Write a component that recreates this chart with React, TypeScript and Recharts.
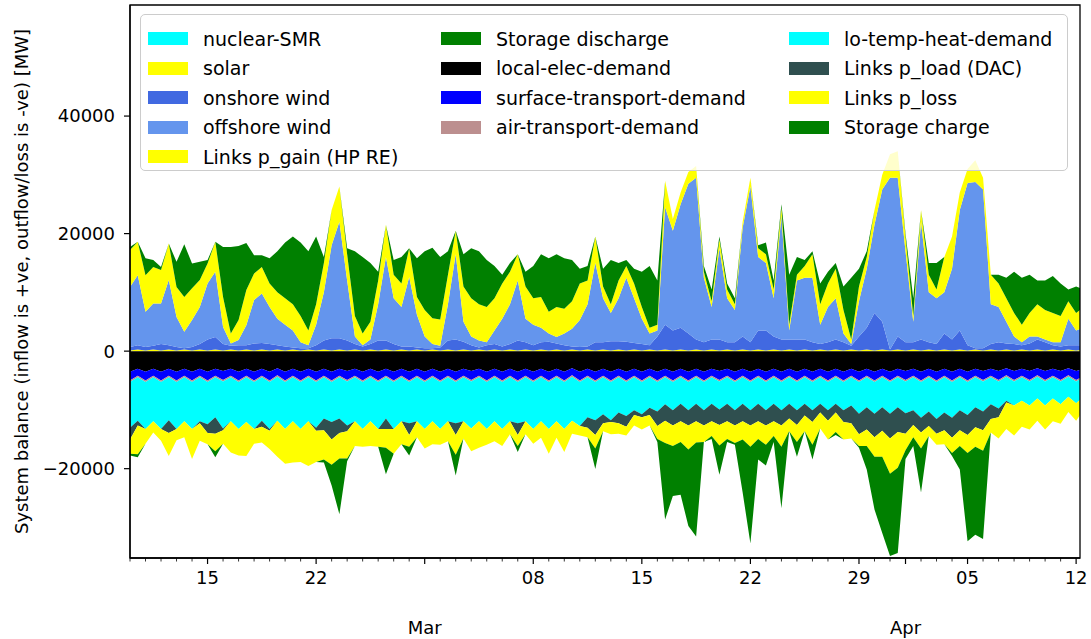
import React from 'react'
import { AreaChart, Area, XAxis, YAxis, ReferenceArea } from 'recharts'

const FONT = '"DejaVu Sans", sans-serif'

// all values in GW, one point every 12 h starting 10 Feb 00:00
const nuclearSMR = [
  0, 0, 0, 0, 0, 0, 0, 0, 0, 0, 0, 0, 0, 0, 0, 0, 0, 0, 0, 0,
  0, 0, 0, 0, 0, 0, 0, 0, 0, 0, 0, 0, 0, 0, 0, 0, 0, 0, 0, 0,
  0, 0, 0, 0, 0, 0, 0, 0, 0, 0, 0, 0, 0, 0, 0, 0, 0, 0, 0, 0,
  0, 0, 0, 0, 0, 0, 0, 0, 0, 0, 0, 0, 0, 0, 0, 0, 0, 0, 0, 0,
  0, 0, 0, 0, 0, 0, 0, 0, 0, 0, 0, 0, 0, 0, 0, 0, 0, 0, 0, 0,
  0, 0, 0, 0, 0, 0, 0, 0, 0, 0, 0, 0, 0, 0, 0, 0, 0, 0, 0, 0,
  0, 0, 0, 0,
]
const solar = [
  0.1, 0.3, 0.1, 0.3, 0.1, 0.3, 0.1, 0.3, 0.1, 0.3,
  0.1, 0.3, 0.1, 0.3, 0.1, 0.3, 0.1, 0.3, 0.1, 0.3,
  0.1, 0.3, 0.1, 0.3, 0.1, 0.3, 0.1, 0.3, 0.1, 0.3,
  0.1, 0.3, 0.1, 0.3, 0.1, 0.3, 0.1, 0.3, 0.1, 0.3,
  0.1, 0.3, 0.1, 0.3, 0.1, 0.3, 0.1, 0.3, 0.1, 0.3,
  0.1, 0.3, 0.1, 0.3, 0.1, 0.3, 0.1, 0.3, 0.1, 0.3,
  0.1, 0.3, 0.1, 0.3, 0.1, 0.3, 0.1, 0.3, 0.1, 0.3,
  0.1, 0.3, 0.1, 0.3, 0.1, 0.3, 0.1, 0.3, 0.1, 0.3,
  0.1, 0.3, 0.1, 0.3, 0.1, 0.3, 0.1, 0.3, 0.1, 0.3,
  0.1, 0.3, 0.1, 0.3, 0.1, 0.3, 0.1, 0.3, 0.1, 0.3,
  0.1, 0.3, 0.1, 0.3, 0.1, 0.3, 0.1, 0.3, 0.1, 0.3,
  0.1, 0.3, 0.1, 0.3, 0.1, 0.3, 0.1, 0.3, 0.1, 0.3,
  0.1, 0.3, 0.1, 0.3,
]
const onshoreWind = [
  0.6, 0.7, 0.6, 0.6, 1.1, 0.7, 0.6, 0.2, 0.6, 0.9,
  1.9, 2.1, 1.1, 0.6, 0.9, 0.7, 1.2, 1.1, 1.1, 0.7,
  0.7, 0.3, 0.4, 0.2, 0.9, 1.5, 2.1, 1.9, 1.7, 0.9,
  0.7, 0.9, 1.7, 1.5, 1.1, 0.5, 0.7, 0.3, 0.4, 0.2,
  0.5, 1.5, 1.9, 1.3, 0.9, 0.3, 0.9, 0.9, 0.7, 0.9,
  1.7, 1.2, 0.9, 1.2, 1.5, 1.0, 0.9, 0.5, 0.6, 0.5,
  1.4, 1.2, 1.6, 1.4, 1.5, 1.1, 1.1, 0.7, 2.4, 4.2,
  3.4, 3.7, 2.9, 1.7, 1.4, 1.7, 1.9, 1.2, 1.4, 2.2,
  1.4, 3.2, 3.4, 2.2, 1.9, 1.7, 1.9, 1.7, 1.4, 0.9,
  1.4, 1.7, 1.4, 0.6, 2.4, 3.7, 6.4, 4.7, 0.2, 2.2,
  1.4, 1.2, 1.9, 1.2, 1.1, 2.7, 1.9, 3.2, 0.9, 0.2,
  0.4, 0.9, 1.4, 1.0, 1.1, 0.7, 1.2, 1.7, 1.4, 0.7,
  0.7, 0.7, 0.9, 0.7,
]
const offshoreWind = [
  10.2, 11.9, 6.0, 7.2, 6.9, 11.1, 5.1, 2.8, 4.6, 6.3,
  9.5, 11.1, 2.9, 0.4, 0.9, 3.4, 7.4, 8.4, 6.3, 4.5,
  3.7, 2.9, 1.0, 0.5, 3.5, 8.2, 15.8, 19.8, 10.2, 1.3,
  0.2, 0.8, 6.2, 14.2, 7.8, 6.7, 11.8, 5.6, 2.0, 0.7,
  0.3, 6.2, 14.5, 3.4, 1.5, 1.2, 0.5, 2.3, 4.7, 6.8,
  10.2, 4.0, 3.5, 2.5, 1.4, 1.1, 2.0, 3.0, 4.6, 7.2,
  13.5, 7.5, 4.8, 7.3, 10.9, 7.6, 4.3, 2.0, 1.0, 20.0,
  17.0, 21.0, 25.5, 27.5, 11.0, 5.5, 15.5, 7.5, 5.5, 18.5,
  26.5, 12.5, 11.5, 6.5, 21.0, 1.5, 10.0, 10.5, 11.0, 3.3,
  6.0, 7.0, 1.5, 0.3, 6.0, 10.0, 15.0, 22.5, 29.2, 27.0,
  15.5, 3.5, 20.0, 8.5, 7.8, 7.0, 12.0, 20.5, 27.6, 28.3,
  27.0, 6.8, 6.0, 3.7, 1.3, 0.5, 1.2, 0.5, 0.5, 0.5,
  0.7, 4.5, 2.5, 3.0,
]
const pGainHP = [
  6.3, 5.7, 6.2, 6.2, 5.7, 6.2, 5.1, 5.9, 5.4, 4.6,
  3.4, 5.1, 5.1, 1.7, 3.4, 6.0, 4.5, 4.5, 4.0, 4.5,
  4.5, 4.5, 4.5, 2.5, 3.5, 5.0, 6.0, 6.0, 4.5, 3.5,
  2.0, 3.0, 4.0, 5.5, 4.0, 4.0, 4.9, 3.0, 4.5, 4.4,
  4.5, 5.0, 4.0, 6.0, 6.5, 6.2, 6.0, 5.5, 6.0, 5.5,
  4.5, 5.5, 4.5, 5.2, 3.7, 5.1, 4.2, 4.7, 6.2, 4.0,
  4.5, 2.0, 1.5, 3.0, 2.0, 2.5, 2.0, 1.0, 1.0, 4.5,
  2.0, 2.0, 2.0, 2.0, 1.0, 1.0, 1.5, 1.5, 1.0, 1.0,
  1.5, 1.5, 1.5, 1.5, 1.5, 1.0, 1.0, 2.0, 4.0, 3.5,
  4.0, 5.0, 4.0, 0.8, 2.5, 2.0, 2.5, 2.5, 4.0, 4.5,
  2.5, 1.0, 2.0, 3.0, 1.5, 6.0, 5.5, 3.0, 2.4, 3.7,
  2.0, 5.0, 4.0, 4.0, 4.0, 3.0, 4.0, 5.5, 5.0, 5.0,
  4.5, 3.0, 3.0, 3.5,
]
const storageDischarge = [
  0.5, 0, 2.9, 1.2, 0.5, 0, 4.3, 9.0, 4.2, 3.1,
  0.6, 0, 8.5, 14.7, 12.6, 8.0, 3.1, 2.0, 4.3, 7.0,
  9.5, 11.5, 12.5, 13.5, 11.5, 1.0, 0, 0, 1.0, 11.0,
  13.0, 10.0, 1.5, 0, 2.5, 4.5, 0, 6.6, 10.0, 12.0,
  10.6, 4.0, 0, 5.5, 8.5, 9.0, 8.0, 5.5, 1.5, 1.5,
  0, 2.5, 5.5, 7.3, 9.1, 9.0, 8.6, 7.0, 2.5, 2.5,
  0, 3.0, 7.5, 3.0, 1.0, 2.5, 6.0, 10.5, 7.5, 0,
  0, 0, 0, 0, 1.0, 2.0, 0.5, 1.0, 1.0, 0,
  0, 0.5, 2.0, 1.5, 0.5, 8.5, 3.0, 1.0, 0.5, 3.5,
  2.0, 1.0, 4.0, 10.5, 3.0, 1.0, 0, 0, 0, 0,
  0.5, 3.0, 0, 2.0, 4.5, 0, 0, 0, 0, 0,
  0, 0, 1.5, 3.5, 7.0, 8.0, 6.5, 4.0, 5.0, 6.3,
  5.5, 2.0, 4.5, 3.0,
]

// outflows, stored as magnitudes (drawn below zero)
const localElecDemand = [
  3.5, 3.0, 3.5, 3.0, 3.5, 3.0, 3.5, 3.0, 3.5, 3.0,
  3.5, 3.0, 3.4, 3.0, 3.5, 3.0, 3.5, 3.0, 3.5, 2.9,
  3.5, 3.0, 3.5, 3.0, 3.5, 3.0, 3.5, 3.0, 3.4, 3.0,
  3.5, 3.0, 3.5, 3.0, 3.5, 3.0, 3.5, 3.0, 3.5, 3.0,
  3.5, 3.0, 3.5, 3.0, 3.4, 3.0, 3.5, 3.0, 3.5, 3.0,
  3.5, 3.0, 3.5, 3.0, 3.5, 3.0, 3.5, 2.9, 3.5, 3.0,
  3.5, 3.0, 3.5, 3.0, 3.5, 3.0, 3.5, 3.0, 3.5, 3.0,
  3.5, 3.0, 3.5, 3.0, 3.5, 3.0, 3.4, 3.0, 3.5, 3.0,
  3.5, 3.0, 3.5, 3.0, 3.5, 3.0, 3.5, 3.0, 3.5, 3.0,
  3.5, 3.0, 3.5, 3.0, 3.5, 3.0, 3.5, 3.0, 3.5, 3.0,
  3.4, 3.0, 3.5, 3.0, 3.5, 3.0, 3.5, 3.0, 3.5, 3.0,
  3.4, 3.0, 3.4, 2.9, 3.4, 3.0, 3.4, 2.9, 3.4, 3.0,
  3.4, 2.9, 3.4, 3.0,
]
const surfaceTransportDemand = [
  1.5, 1.2, 1.5, 1.2, 1.5, 1.2, 1.5, 1.2, 1.5, 1.2,
  1.5, 1.2, 1.5, 1.2, 1.5, 1.2, 1.5, 1.2, 1.5, 1.2,
  1.5, 1.2, 1.5, 1.2, 1.5, 1.2, 1.5, 1.2, 1.5, 1.2,
  1.5, 1.2, 1.5, 1.2, 1.5, 1.2, 1.5, 1.2, 1.5, 1.2,
  1.5, 1.2, 1.5, 1.2, 1.5, 1.2, 1.5, 1.2, 1.5, 1.2,
  1.5, 1.2, 1.5, 1.2, 1.5, 1.2, 1.5, 1.2, 1.5, 1.2,
  1.5, 1.2, 1.5, 1.2, 1.5, 1.2, 1.5, 1.2, 1.5, 1.2,
  1.5, 1.2, 1.5, 1.2, 1.5, 1.2, 1.5, 1.2, 1.5, 1.2,
  1.5, 1.2, 1.5, 1.2, 1.5, 1.2, 1.5, 1.2, 1.5, 1.2,
  1.5, 1.2, 1.5, 1.2, 1.5, 1.2, 1.5, 1.2, 1.5, 1.2,
  1.5, 1.2, 1.5, 1.2, 1.5, 1.2, 1.5, 1.2, 1.5, 1.2,
  1.5, 1.2, 1.5, 1.2, 1.5, 1.2, 1.5, 1.2, 1.5, 1.2,
  1.5, 1.2, 1.5, 1.2,
]
const airTransportDemand = [
  0.25, 0.25, 0.25, 0.25, 0.25, 0.25, 0.25, 0.25, 0.25, 0.25,
  0.25, 0.25, 0.25, 0.25, 0.25, 0.25, 0.25, 0.25, 0.25, 0.25,
  0.25, 0.25, 0.25, 0.25, 0.25, 0.25, 0.25, 0.25, 0.25, 0.25,
  0.25, 0.25, 0.25, 0.25, 0.25, 0.25, 0.25, 0.25, 0.25, 0.25,
  0.25, 0.25, 0.25, 0.25, 0.25, 0.25, 0.25, 0.25, 0.25, 0.25,
  0.25, 0.25, 0.25, 0.25, 0.25, 0.25, 0.25, 0.25, 0.25, 0.25,
  0.25, 0.25, 0.25, 0.25, 0.25, 0.25, 0.25, 0.25, 0.25, 0.25,
  0.25, 0.25, 0.25, 0.25, 0.25, 0.25, 0.25, 0.25, 0.25, 0.25,
  0.25, 0.25, 0.25, 0.25, 0.25, 0.25, 0.25, 0.25, 0.25, 0.25,
  0.25, 0.25, 0.25, 0.25, 0.25, 0.25, 0.25, 0.25, 0.25, 0.25,
  0.25, 0.25, 0.25, 0.25, 0.25, 0.25, 0.25, 0.25, 0.25, 0.25,
  0.25, 0.25, 0.25, 0.25, 0.25, 0.25, 0.25, 0.25, 0.25, 0.25,
  0.25, 0.25, 0.25, 0.25,
]
const loTempHeatDemand = [
  7.8, 7.4, 8.0, 7.5, 8.0, 7.3, 8.0, 7.5, 8.0, 7.5,
  7.2, 6.8, 8.0, 7.5, 8.0, 7.6, 8.0, 7.4, 8.0, 7.5,
  8.0, 7.5, 8.0, 7.5, 7.8, 7.0, 6.8, 7.0, 7.5, 7.5,
  8.0, 7.5, 8.0, 7.0, 8.0, 7.5, 7.0, 7.5, 8.0, 7.5,
  8.0, 7.5, 7.0, 7.5, 8.0, 7.5, 8.0, 7.5, 8.0, 7.5,
  7.0, 7.5, 8.0, 7.5, 8.0, 7.5, 8.0, 7.5, 7.5, 6.8,
  6.5, 6.3, 6.5, 6.0, 5.8, 5.6, 5.5, 5.2, 5.0, 4.6,
  4.8, 4.5, 4.8, 4.5, 4.8, 4.5, 4.8, 4.5, 4.8, 4.5,
  4.8, 4.5, 4.8, 4.5, 4.8, 4.5, 4.8, 4.5, 4.8, 4.5,
  4.8, 4.5, 4.8, 4.8, 5.4, 5.1, 5.4, 5.1, 5.4, 5.1,
  5.4, 5.6, 6.1, 5.8, 6.3, 6.0, 6.1, 5.6, 5.6, 5.1,
  5.1, 4.6, 4.6, 4.1, 4.1, 4.0, 4.1, 3.7, 4.1, 3.6,
  3.9, 3.4, 3.7, 3.3,
]
const pLoadDAC = [
  2.0, 0.8, 0, 0, 0, 2.2, 0, 0, 0, 0.3,
  1.5, 2.8, 0.3, 0, 0, 0, 0, 1.0, 0.3, 0,
  0, 0, 0, 0, 0.5, 2.0, 3.0, 2.5, 1.0, 0,
  0, 0, 0, 1.8, 0, 0, 2.0, 0, 0, 0,
  0, 0, 2.0, 0, 0, 0, 0, 0, 0, 0,
  2.0, 0, 0, 0, 0, 0, 0, 0, 0, 1.8,
  2.5, 1.5, 0.3, 1.8, 1.8, 0.8, 0.5, 1.2, 2.5, 2.8,
  2.6, 3.0, 2.6, 3.0, 2.6, 3.0, 2.6, 3.0, 2.6, 3.0,
  2.6, 3.0, 2.6, 3.0, 2.6, 2.5, 2.5, 2.0, 2.0, 1.5,
  1.8, 1.5, 2.0, 3.0, 3.5, 3.8, 4.0, 4.0, 4.2, 4.2,
  3.5, 2.5, 2.5, 2.5, 2.5, 3.0, 3.4, 3.4, 3.4, 3.4,
  3.2, 2.5, 1.5, 0.3, 0, 0, 0, 0, 0, 0,
  0, 0, 0, 0,
]
const pLoss = [
  2.4, 4.9, 2.5, 1.9, 2.0, 3.9, 1.9, 2.7, 5.1, 3.0,
  1.9, 3.0, 2.3, 5.3, 4.5, 5.8, 2.5, 2.7, 3.1, 6.1,
  5.9, 7.0, 5.6, 7.6, 5.3, 5.0, 4.3, 4.3, 4.6, 4.2,
  3.0, 4.2, 3.0, 3.2, 4.2, 3.9, 2.0, 2.7, 3.3, 3.9,
  2.7, 3.4, 3.4, 2.9, 3.9, 4.5, 2.7, 3.4, 2.9, 2.2,
  1.9, 2.2, 2.5, 2.8, 4.2, 2.8, 3.9, 2.2, 1.6, 1.6,
  2.3, 1.4, 2.1, 1.8, 1.5, 1.8, 2.1, 1.8, 2.2, 3.8,
  3.5, 3.5, 4.1, 3.6, 2.8, 2.5, 3.5, 3.0, 3.0, 3.1,
  3.6, 3.0, 3.3, 2.5, 3.6, 2.2, 2.9, 2.7, 3.9, 2.7,
  3.2, 3.3, 3.0, 2.6, 2.0, 2.8, 3.3, 4.4, 6.0, 6.1,
  2.8, 2.1, 2.7, 1.7, 1.9, 2.4, 2.6, 2.7, 3.1, 3.3,
  3.5, 2.3, 3.6, 4.5, 5.1, 4.4, 4.1, 3.8, 4.1, 3.9,
  3.3, 2.6, 3.0, 2.2,
]
const storageCharge = [
  0.3, 0.5, 0, 0, 0, 0, 0, 0, 0, 0,
  0, 1.0, 0, 0, 0, 0, 0, 0, 0, 0,
  0, 0, 0, 0, 0, 0.5, 3.5, 9.5, 0.5, 0,
  0, 0, 0, 4.5, 0, 0, 1.5, 0, 0, 0,
  0, 0, 3.5, 0, 0, 0, 0, 0, 0, 0,
  1.0, 0, 0, 0, 0, 0, 0, 0, 0, 0,
  3.5, 0, 0, 0, 0, 0, 0, 0, 0.5, 13.0,
  8.5, 9.0, 13.0, 16.0, 0, 0.5, 5.0, 0.5, 0.3, 9.0,
  16.5, 3.5, 3.5, 1.0, 10.5, 0, 2.5, 0, 2.5, 0,
  0, 0.5, 0, 0, 0.3, 4.0, 9.0, 13.0, 14.0, 14.5,
  1.5, 1.5, 7.5, 0, 0, 0, 0.5, 4.0, 15.0, 15.0,
  15.0, 0, 0, 0, 0, 0, 0, 0, 0, 0,
  0, 0, 0, 0,
]

// x axis: days after 10 Feb
const WEEK_LABELS = [
  { t: 5, label: '15' }, { t: 12, label: '22' }, { t: 26, label: '08' }, { t: 33, label: '15' },
  { t: 40, label: '22' }, { t: 47, label: '29' }, { t: 54, label: '05' }, { t: 61, label: '12' },
]
const MONTH_LABELS = [{ t: 19, label: 'Mar' }, { t: 50, label: 'Apr' }]
const DAY_TICKS = Array.from({ length: 62 }, (_, d) => d)
const Y_TICKS = [-20000, 0, 20000, 40000]
const X_DOMAIN: [number, number] = [0, 61.25]
const Y_DOMAIN: [number, number] = [-35200, 58900]

type Series = { key: string; name: string; color: string; stack: 'pos' | 'neg'; values: number[] }

const SERIES: Series[] = [
  { key: 'nuclear', name: 'nuclear-SMR', color: '#00ffff', stack: 'pos', values: nuclearSMR },
  { key: 'solar', name: 'solar', color: '#ffff00', stack: 'pos', values: solar },
  { key: 'onshore', name: 'onshore wind', color: '#4169e1', stack: 'pos', values: onshoreWind },
  { key: 'offshore', name: 'offshore wind', color: '#6495ed', stack: 'pos', values: offshoreWind },
  { key: 'pgain', name: 'Links p_gain (HP RE)', color: '#ffff00', stack: 'pos', values: pGainHP },
  { key: 'discharge', name: 'Storage discharge', color: '#008000', stack: 'pos', values: storageDischarge },
  { key: 'elec', name: 'local-elec-demand', color: '#000000', stack: 'neg', values: localElecDemand },
  { key: 'surface', name: 'surface-transport-demand', color: '#0000ff', stack: 'neg', values: surfaceTransportDemand },
  { key: 'air', name: 'air-transport-demand', color: '#bc8f8f', stack: 'neg', values: airTransportDemand },
  { key: 'heat', name: 'lo-temp-heat-demand', color: '#00ffff', stack: 'neg', values: loTempHeatDemand },
  { key: 'dac', name: 'Links p_load (DAC)', color: '#2f4f4f', stack: 'neg', values: pLoadDAC },
  { key: 'loss', name: 'Links p_loss', color: '#ffff00', stack: 'neg', values: pLoss },
  { key: 'charge', name: 'Storage charge', color: '#008000', stack: 'neg', values: storageCharge },
]

// GW -> MW, outflows negative
const data = offshoreWind.map((_, i) => {
  const row: Record<string, number> = { t: i * 0.5 }
  SERIES.forEach((s) => {
    row[s.key] = (s.stack === 'neg' ? -1 : 1) * s.values[i] * 1000
  })
  return row
})

function DateTick(props: any) {
  const { x, y, payload } = props
  const t = payload.value
  const week = WEEK_LABELS.find((w) => w.t === t)
  const month = MONTH_LABELS.find((m) => m.t === t)
  const major = week || month
  return (
    <g>
      <line x1={x} x2={x} y1={y} y2={y + (major ? 6 : 3.5)} stroke="#000" strokeWidth={major ? 1.2 : 0.8} />
      {week && (
        <text x={x} y={y + 19} textAnchor="middle" dominantBaseline="central" fontSize={18} fontFamily={FONT} fill="#000">
          {week.label}
        </text>
      )}
      {month && (
        <text x={x} y={y + 69} textAnchor="middle" dominantBaseline="central" fontSize={18} fontFamily={FONT} fill="#000">
          {month.label}
        </text>
      )}
    </g>
  )
}

function YLabel(props: any) {
  const vb = props.viewBox
  const cx = 21
  const cy = vb.y + vb.height / 2
  return (
    <text x={cx} y={cy} transform={`rotate(-90 ${cx} ${cy})`} textAnchor="middle" dominantBaseline="central"
      fontSize={18} fontFamily={FONT} fill="#000">
      System balance (inflow is +ve, outflow/loss is -ve) [MW]
    </text>
  )
}

// legend columns hold 5, 4 and 4 entries
function legendCell(idx: number) {
  if (idx < 5) return { gridColumn: 1, gridRow: idx + 1 }
  if (idx < 9) return { gridColumn: 2, gridRow: idx - 4 }
  return { gridColumn: 3, gridRow: idx - 8 }
}

function LegendBox() {
  return (
    <div style={{
      position: 'absolute', left: 140, top: 14, width: 928, height: 157, boxSizing: 'border-box',
      background: 'rgba(255,255,255,0.8)', border: '1px solid #cccccc', borderRadius: 5,
      display: 'grid', gridTemplateColumns: '293px 348px auto', gridTemplateRows: 'repeat(5, 29.5px)',
      padding: '9px 0 0 7px', fontFamily: FONT, fontSize: 19, color: '#000',
    }}>
      {SERIES.map((s, i) => (
        <div key={s.key} style={{ ...legendCell(i), display: 'flex', alignItems: 'center', whiteSpace: 'nowrap' }}>
          <span style={{ width: 40, height: 13, background: s.color, marginRight: 15, flexShrink: 0 }} />
          <span>{s.name}</span>
        </div>
      ))}
    </div>
  )
}

export default function App() {
  return (
    <div style={{ position: 'absolute', left: 0, top: 0, width: 1091, height: 639, background: '#fff' }}>
      <AreaChart width={1091} height={639} data={data} margin={{ top: 5, right: 11, left: 0, bottom: 0 }}>
        <XAxis
          dataKey="t"
          type="number"
          domain={X_DOMAIN}
          allowDataOverflow
          ticks={DAY_TICKS}
          interval={0}
          tick={<DateTick />}
          tickLine={false}
          tickSize={0}
          tickMargin={0}
          height={81}
          axisLine={{ stroke: '#000', strokeWidth: 1.3 }}
        />
        <YAxis
          type="number"
          domain={Y_DOMAIN}
          allowDataOverflow
          ticks={Y_TICKS}
          interval={0}
          width={130}
          tickSize={6}
          tickMargin={9}
          tick={{ fill: '#000', fontSize: 18, fontFamily: FONT }}
          tickLine={{ stroke: '#000', strokeWidth: 1.2 }}
          axisLine={{ stroke: '#000', strokeWidth: 1.3 }}
          tickFormatter={(v: number) => (v < 0 ? '\u2212' + Math.abs(v) : String(v))}
          label={<YLabel />}
        />
        {SERIES.map((s) => (
          <Area
            key={s.key}
            type="linear"
            dataKey={s.key}
            name={s.name}
            stackId={s.stack}
            stroke="none"
            fill={s.color}
            fillOpacity={1}
            dot={false}
            activeDot={false}
            isAnimationActive={false}
          />
        ))}
        {/* axes frame */}
        <ReferenceArea x1={X_DOMAIN[0]} x2={X_DOMAIN[1]} y1={Y_DOMAIN[0]} y2={Y_DOMAIN[1]}
          fill="none" fillOpacity={0} stroke="#000" strokeWidth={1.3} ifOverflow="visible" />
      </AreaChart>
      <LegendBox />
    </div>
  )
}
